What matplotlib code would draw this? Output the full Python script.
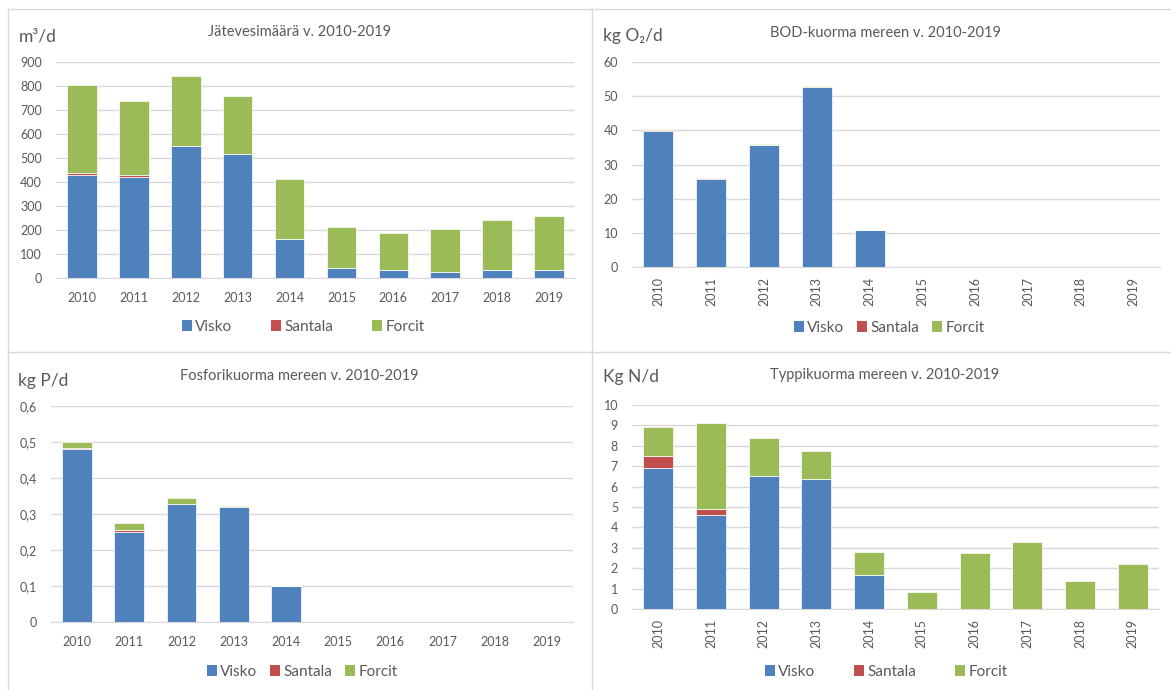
import matplotlib
matplotlib.use("Agg")
import matplotlib.pyplot as plt
from matplotlib.lines import Line2D
from matplotlib.patches import Patch
from matplotlib.ticker import FuncFormatter

# ---------------------------------------------------------------- data
years = ["2010", "2011", "2012", "2013", "2014",
         "2015", "2016", "2017", "2018", "2019"]
series_names = ["Visko", "Santala", "Forcit"]

# wastewater volume, m3/d
vesi_visko = [429, 421, 550, 517, 161, 40, 33, 25, 35, 35]
vesi_santala = [10, 7, 0, 0, 0, 0, 0, 0, 0, 0]
vesi_forcit = [366, 311, 290, 241, 251, 171, 155, 178, 205, 223]

# BOD load, kg O2/d
bod_visko = [39.8, 25.8, 35.8, 52.7, 10.9, 0, 0, 0, 0, 0]
bod_santala = [0.4, 0.3, 0, 0, 0, 0, 0, 0, 0, 0]
bod_forcit = [0.2, 0, 0.2, 0.2, 0, 0, 0, 0, 0, 0]

# phosphorus load, kg P/d
p_visko = [0.480, 0.249, 0.329, 0.320, 0.100, 0, 0, 0, 0, 0]
p_santala = [0.002, 0.007, 0, 0, 0, 0, 0, 0, 0, 0]
p_forcit = [0.018, 0.018, 0.015, 0.003, 0, 0, 0, 0, 0, 0]

# nitrogen load, kg N/d
n_visko = [6.91, 4.61, 6.50, 6.39, 1.68, 0, 0, 0, 0, 0]
n_santala = [0.61, 0.31, 0, 0, 0, 0, 0, 0, 0, 0]
n_forcit = [1.40, 4.21, 1.90, 1.36, 1.11, 0.82, 2.73, 3.28, 1.37, 2.19]

# ---------------------------------------------------------------- style
COLORS = ["#4f81bd", "#c0504d", "#9bbb59"]
TEXT = "#595959"
GRID = "#d9d9d9"
FONT = ["Lato", "DejaVu Sans"]
W, H = 1171, 690

plt.rcParams["font.family"] = FONT


def fx(px):
    return px / W


def fy(px):
    return 1 - px / H


def draw_panel(fig, box, visko, santala, forcit, ymax, step, title, unit,
               title_xy, unit_xy, legend_xy, colspace, rotate=False,
               comma=False):
    left, right, top, bottom = box
    ax = fig.add_axes([fx(left), fy(bottom), fx(right - left),
                       fy(top) - fy(bottom)])
    x = list(range(len(years)))
    base2 = [a + b for a, b in zip(visko, santala)]
    ax.bar(x, visko, 0.57, color=COLORS[0], edgecolor="white", lw=0.5)
    ax.bar(x, santala, 0.57, bottom=visko, color=COLORS[1],
           edgecolor="white", lw=0.5)
    ax.bar(x, forcit, 0.57, bottom=base2, color=COLORS[2],
           edgecolor="white", lw=0.5)

    ax.set_xlim(-0.5, len(years) - 0.5)
    ax.set_ylim(0, ymax)
    n = int(round(ymax / step))
    ax.set_yticks([i * step for i in range(n + 1)])
    if comma:
        ax.yaxis.set_major_formatter(FuncFormatter(
            lambda v, p: "0" if v == 0 else f"{v:.1f}".replace(".", ",")))
    else:
        ax.yaxis.set_major_formatter(FuncFormatter(lambda v, p: f"{v:g}"))
    ax.set_xticks(x)
    ax.set_xticklabels(years, rotation=90 if rotate else 0)
    ax.tick_params(axis="both", length=0, labelsize=9, colors=TEXT)
    ax.tick_params(axis="y", pad=10)
    ax.tick_params(axis="x", pad=7 if rotate else 10)
    ax.grid(axis="y", color=GRID, lw=1)
    ax.set_axisbelow(True)
    for s in ["top", "left", "right"]:
        ax.spines[s].set_visible(False)
    ax.spines["bottom"].set_color(GRID)
    ax.spines["bottom"].set_zorder(0.5)

    fig.text(fx(title_xy[0]), fy(title_xy[1]), title, ha="center",
             va="center", fontsize=10.5, color=TEXT)
    fig.text(fx(unit_xy[0]), fy(unit_xy[1]), unit, ha="left",
             va="center", fontsize=12.5, color=TEXT)

    handles = [Patch(facecolor=c, edgecolor="none") for c in COLORS]
    ax.legend(handles, series_names, loc="center",
              bbox_to_anchor=(fx(legend_xy[0]), fy(legend_xy[1])),
              bbox_transform=fig.transFigure, ncol=3, frameon=False,
              fontsize=11, labelcolor=TEXT, handlelength=0.7,
              handleheight=0.7, handletextpad=0.2,
              columnspacing=colspace, borderpad=0)
    return ax


def main():
    fig = plt.figure(figsize=(W / 100, H / 100), dpi=100)

    # panel frames
    frame = dict(transform=fig.transFigure, color=GRID, lw=1)
    fig.add_artist(Line2D([fx(8), 1], [fy(9), fy(9)], **frame))
    fig.add_artist(Line2D([fx(8), 1], [fy(352), fy(352)], **frame))
    fig.add_artist(Line2D([fx(8), fx(8)], [fy(9), 0], **frame))
    fig.add_artist(Line2D([fx(592), fx(592)], [fy(9), 0], **frame))

    draw_panel(fig, (56, 575, 62, 278), vesi_visko, vesi_santala,
               vesi_forcit, 900, 100, "Jätevesimäärä v. 2010-2019",
               "m³/d", (300, 32), (19, 37), (303, 327), 2.5)
    draw_panel(fig, (632, 1160, 62, 267), bod_visko, bod_santala,
               bod_forcit, 60, 10, "BOD-kuorma mereen v. 2010-2019",
               "kg O₂/d", (885, 33), (603, 36), (889, 328), 0.8,
               rotate=True)
    draw_panel(fig, (51, 573, 406, 622), p_visko, p_santala, p_forcit,
               0.6, 0.1, "Fosforikuorma mereen v. 2010-2019",
               "kg P/d", (299, 376), (18, 381), (302, 672), 0.8,
               comma=True)
    draw_panel(fig, (632, 1159, 405, 609), n_visko, n_santala, n_forcit,
               10, 1, "Typpikuorma mereen v. 2010-2019",
               "Kg N/d", (885, 375), (603, 377), (886, 672), 2.5,
               rotate=True)

    fig.savefig("out.png", dpi=100, facecolor="white")


if __name__ == "__main__":
    main()
